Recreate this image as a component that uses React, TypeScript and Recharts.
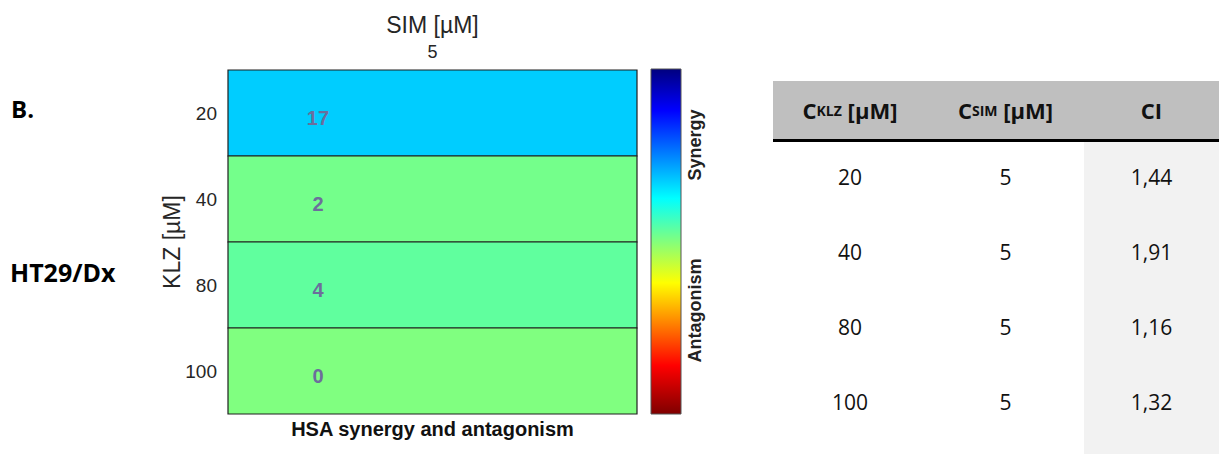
import React from "react";
import {
  BarChart,
  Bar,
  XAxis,
  YAxis,
  Cell,
  LabelList,
} from "recharts";

// heatmap rows (KLZ concentrations) and the single SIM column
const klzLevels = ["20", "40", "80", "100"];
const simLevels = ["5"];
const hsaScores = [17, 2, 4, 0];
const cellColors = ["#00CDFF", "#74FF8B", "#60FF9E", "#80FF80"];

// colorbar annotations
const colorbarLabels = [
  { at: 0.78, text: "Synergy" },
  { at: 0.3, text: "Antagonism" },
];

// table
const tableKlz = ["20", "40", "80", "100"];
const tableSim = ["5", "5", "5", "5"];
const tableCi = ["1,44", "1,91", "1,16", "1,32"];

const rows = klzLevels.map((klz, i) => ({
  klz,
  sim: simLevels[0],
  span: 1,
  hsa: hsaScores[i],
}));

const axisFont = "'Liberation Sans', Arial, sans-serif";
const tableFont = "'Open Sans', 'Liberation Sans', sans-serif";

const ScoreLabel = (props: any) => {
  const { x, y, width, height, value } = props;
  return (
    <text
      x={x + width * 0.22}
      y={y + height / 2 + 12}
      textAnchor="middle"
      fontFamily={axisFont}
      fontWeight="bold"
      fontSize={20}
      fill="#6c6e9c"
    >
      {value}
    </text>
  );
};

const BarTick = (props: any) => {
  const { x, y, payload } = props;
  const item = colorbarLabels.find((l) => l.at === payload.value);
  return (
    <text
      transform={`translate(${x + 14},${y}) rotate(-90)`}
      textAnchor="middle"
      dominantBaseline="central"
      fontFamily={axisFont}
      fontWeight="bold"
      fontSize={18}
      fill="#222"
    >
      {item ? item.text : ""}
    </text>
  );
};

const Heatmap = () => (
  <BarChart
    width={700}
    height={454}
    data={rows}
    layout="vertical"
    barCategoryGap={0}
    margin={{ top: 40, right: 63, bottom: 0, left: 168 }}
  >
    <XAxis
      xAxisId="top"
      type="number"
      orientation="top"
      domain={[0, 1]}
      ticks={[0.5]}
      tickFormatter={() => simLevels[0]}
      axisLine={false}
      tickLine={false}
      tickSize={0}
      tickMargin={12}
      height={30}
      tick={{ fontSize: 18, fill: "#262626", fontFamily: axisFont }}
      label={{
        value: "SIM [µM]",
        position: "top",
        offset: 7,
        style: { fontSize: 23, fill: "#262626", fontFamily: axisFont },
      }}
    />
    <XAxis
      xAxisId="bottom"
      type="number"
      orientation="bottom"
      domain={[0, 1]}
      tick={false}
      axisLine={false}
      tickLine={false}
      height={40}
      label={{
        value: "HSA synergy and antagonism",
        position: "insideTop",
        offset: 8,
        style: {
          fontSize: 20,
          fontWeight: "bold",
          fill: "#111",
          fontFamily: axisFont,
        },
      }}
    />
    <YAxis
      type="category"
      dataKey="klz"
      width={60}
      axisLine={false}
      tickLine={false}
      tickSize={0}
      tickMargin={11}
      tick={{ fontSize: 19, fill: "#262626", fontFamily: axisFont }}
      label={{
        value: "KLZ [µM]",
        angle: -90,
        position: "insideLeft",
        offset: 4,
        style: {
          textAnchor: "middle",
          fontSize: 23,
          fill: "#262626",
          fontFamily: axisFont,
        },
      }}
    />
    <Bar dataKey="span" xAxisId="top" isAnimationActive={false}>
      {rows.map((r, i) => (
        <Cell key={r.klz} fill={cellColors[i]} stroke="#1e1e1e" strokeWidth={1.2} />
      ))}
      <LabelList dataKey="hsa" content={ScoreLabel} />
    </Bar>
  </BarChart>
);

const ColorBar = () => (
  <BarChart
    width={80}
    height={454}
    data={[{ band: "scale", span: 1 }]}
    barCategoryGap={0}
    margin={{ top: 69, right: 15, bottom: 40, left: 11 }}
  >
    <defs>
      <linearGradient id="jet" x1="0" y1="0" x2="0" y2="1">
        <stop offset="0" stopColor="#00007f" />
        <stop offset="0.12" stopColor="#0000ff" />
        <stop offset="0.375" stopColor="#00ffff" />
        <stop offset="0.62" stopColor="#ffff00" />
        <stop offset="0.86" stopColor="#ff0000" />
        <stop offset="1" stopColor="#7f0000" />
      </linearGradient>
    </defs>
    <XAxis dataKey="band" type="category" hide />
    <YAxis
      type="number"
      orientation="right"
      domain={[0, 1]}
      ticks={colorbarLabels.map((l) => l.at)}
      width={24}
      axisLine={false}
      tickLine={false}
      tickSize={0}
      tickMargin={0}
      tick={BarTick}
    />
    <Bar
      dataKey="span"
      fill="url(#jet)"
      stroke="#555"
      strokeWidth={1}
      isAnimationActive={false}
    />
  </BarChart>
);

const cellStyle: React.CSSProperties = {
  display: "flex",
  alignItems: "center",
  justifyContent: "center",
};

const colWidths = [154, 157, 135];

const CiTable = () => (
  <div
    style={{
      position: "absolute",
      left: 773,
      top: 81,
      width: 446,
      height: 373,
      fontFamily: tableFont,
      color: "#111",
    }}
  >
    <div
      style={{
        position: "absolute",
        left: colWidths[0] + colWidths[1],
        top: 61,
        width: colWidths[2],
        bottom: 0,
        background: "#f2f2f2",
      }}
    />
    <div
      style={{
        position: "relative",
        display: "flex",
        height: 58,
        background: "#bfbfbf",
        borderBottom: "3px solid #000",
        fontWeight: "bold",
        fontSize: 22,
      }}
    >
      <div style={{ ...cellStyle, width: colWidths[0] }}>
        C<span style={{ fontSize: 14 }}>KLZ</span>&nbsp;[µM]
      </div>
      <div style={{ ...cellStyle, width: colWidths[1] }}>
        C<span style={{ fontSize: 14 }}>SIM</span>&nbsp;[µM]
      </div>
      <div style={{ ...cellStyle, width: colWidths[2] }}>CI</div>
    </div>
    {tableKlz.map((k, i) => (
      <div
        key={k}
        style={{
          position: "relative",
          top: -3,
          display: "flex",
          height: 75,
          fontSize: 21,
        }}
      >
        <div style={{ ...cellStyle, width: colWidths[0] }}>{k}</div>
        <div style={{ ...cellStyle, width: colWidths[1] }}>{tableSim[i]}</div>
        <div style={{ ...cellStyle, width: colWidths[2] }}>{tableCi[i]}</div>
      </div>
    ))}
  </div>
);

export default function App() {
  return (
    <div
      style={{
        position: "absolute",
        left: 0,
        top: 0,
        width: 1219,
        height: 454,
        background: "#fff",
        overflow: "hidden",
      }}
    >
      <div
        style={{
          position: "absolute",
          left: 11,
          top: 92,
          fontFamily: tableFont,
          fontWeight: "bold",
          fontSize: 24,
        }}
      >
        B.
      </div>
      <div
        style={{
          position: "absolute",
          left: 10,
          top: 255,
          fontFamily: tableFont,
          fontWeight: "bold",
          fontSize: 25,
        }}
      >
        HT29/Dx
      </div>
      <div style={{ position: "absolute", left: 0, top: 0 }}>
        <Heatmap />
      </div>
      <div style={{ position: "absolute", left: 640, top: 0 }}>
        <ColorBar />
      </div>
      <CiTable />
    </div>
  );
}
